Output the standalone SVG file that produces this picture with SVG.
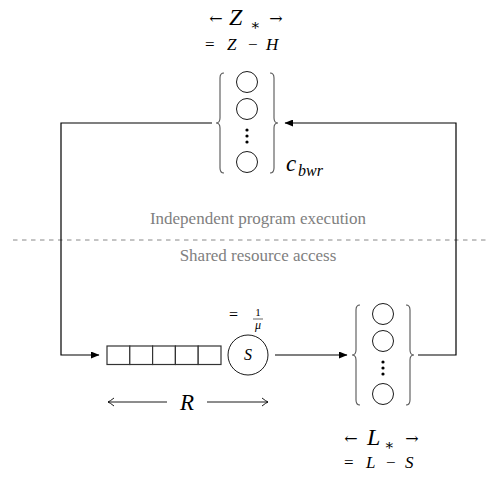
<svg xmlns="http://www.w3.org/2000/svg" xmlns:xlink="http://www.w3.org/1999/xlink" width="491" height="478" viewBox="0 0 491 478">
<style>
.bg{fill:#fff}
.brace{fill:none;stroke:#555;stroke-width:1.1}
.slot{fill:#fff;stroke:#000;stroke-width:0.9}
.dot{fill:#000}
.cell{fill:#fff;stroke:#333;stroke-width:1.2}
.conn{fill:none;stroke:#000;stroke-width:1.2}
.dash{fill:none;stroke:#888;stroke-width:1;stroke-dasharray:4.5 4.5}
.gray{font-family:"Liberation Serif","DejaVu Serif",serif;font-size:17px;fill:#808080;text-anchor:middle}
.m{font-family:"Liberation Serif","DejaVu Serif",serif;fill:#000}
.ar{font-family:"DejaVu Serif","DejaVu Sans",serif;font-size:16px;fill:#000;text-anchor:middle}
.it{font-style:italic}
.thin{fill:none;stroke:#000;stroke-width:0.9}
</style>
<defs>
<marker id="tip" markerWidth="9" markerHeight="7" refX="8" refY="3.5" orient="auto" markerUnits="userSpaceOnUse">
<path d="M0,0 L8.5,3.5 L0,7 z" fill="#000"/>
</marker>
<marker id="open" markerWidth="10" markerHeight="10" refX="7" refY="5" orient="auto" markerUnits="userSpaceOnUse">
<path d="M1,1 Q5,4.2 7,5 Q5,5.8 1,9" fill="none" stroke="#000" stroke-width="0.9"/>
</marker>
<g id="pool">
<path class="brace" d="M-23,-50 Q-27,-50 -27,-45 L-27,-5 Q-27,0 -31,0 Q-27,0 -27,5 L-27,45 Q-27,50 -23,50"/>
<path class="brace" d="M23,-50 Q27,-50 27,-45 L27,-5 Q27,0 31,0 Q27,0 27,5 L27,45 Q27,50 23,50"/>
<circle class="slot" cx="0" cy="-41" r="10.5"/>
<circle class="slot" cx="0" cy="-14" r="10.5"/>
<circle class="dot" cx="0" cy="7" r="1.6"/>
<circle class="dot" cx="0" cy="13" r="1.6"/>
<circle class="dot" cx="0" cy="19" r="1.6"/>
<circle class="slot" cx="0" cy="39" r="10.5"/>
</g>
</defs>
<rect class="bg" x="0" y="0" width="491" height="478"/>

<g id="separator">
<path class="dash" d="M13,240 H487"/>
<text class="gray" x="258" y="224">Independent program execution</text>
<text class="gray" x="258" y="261">Shared resource access</text>
</g>

<g id="connectors">
<path class="conn" d="M212,123 H61 V355 H99" marker-end="url(#tip)"/>
<path class="conn" d="M275,355 H347" marker-end="url(#tip)"/>
<path class="conn" d="M418,355 H456 V123 H285" marker-end="url(#tip)"/>
</g>

<g id="think-pool">
<use xlink:href="#pool" href="#pool" transform="translate(247,123)"/>
<text class="ar" x="216" y="24">←</text>
<text class="m it" x="229" y="25" font-size="24">Z</text>
<text class="m" x="250" y="30" font-size="15">∗</text>
<text class="ar" x="276" y="24">→</text>
<text class="m" x="205" y="50" font-size="17">=</text>
<text class="m it" x="227" y="50" font-size="17">Z</text>
<text class="m" x="248" y="50" font-size="17">−</text>
<text class="m it" x="266" y="50" font-size="17">H</text>
<text class="m it" x="286" y="171" font-size="23">c</text>
<text class="m it" x="298" y="176" font-size="16">bwr</text>
</g>

<g id="queue">
<rect class="cell" x="107" y="346" width="22.8" height="18.5"/>
<rect class="cell" x="129.8" y="346" width="22.8" height="18.5"/>
<rect class="cell" x="152.6" y="346" width="22.8" height="18.5"/>
<rect class="cell" x="175.4" y="346" width="22.8" height="18.5"/>
<rect class="cell" x="198.2" y="346" width="22.8" height="18.5"/>
<path class="thin" d="M167,402 H108" marker-end="url(#open)"/>
<path class="thin" d="M207,402 H268" marker-end="url(#open)"/>
<text class="m it" x="187" y="410" font-size="23" text-anchor="middle">R</text>
</g>

<g id="server">
<circle class="slot" cx="248" cy="355" r="20"/>
<text class="m it" x="248" y="360" font-size="16" text-anchor="middle">S</text>
<text class="m" x="229" y="320" font-size="16">=</text>
<text class="m" x="258" y="316" font-size="11" text-anchor="middle">1</text>
<path d="M253,319 H263" stroke="#000" stroke-width="0.6"/>
<text class="m it" x="258" y="329" font-size="12" text-anchor="middle">μ</text>
</g>

<g id="resource-pool">
<use xlink:href="#pool" href="#pool" transform="translate(383,355)"/>
<text class="ar" x="351" y="444">←</text>
<text class="m it" x="367" y="445" font-size="24">L</text>
<text class="m" x="384" y="450" font-size="15">∗</text>
<text class="ar" x="412" y="444">→</text>
<text class="m" x="344" y="468" font-size="17">=</text>
<text class="m it" x="366" y="468" font-size="17">L</text>
<text class="m" x="386" y="468" font-size="17">−</text>
<text class="m it" x="405" y="468" font-size="17">S</text>
</g>
</svg>
